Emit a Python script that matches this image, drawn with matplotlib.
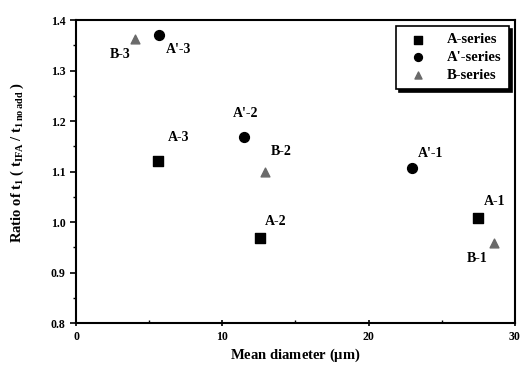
import matplotlib
matplotlib.use("Agg")
import matplotlib.pyplot as plt
from matplotlib.ticker import MultipleLocator

plt.rcParams["font.family"] = ["Liberation Serif", "DejaVu Serif"]
plt.rcParams["font.weight"] = "bold"
plt.rcParams["mathtext.fontset"] = "custom"
plt.rcParams["mathtext.rm"] = "Liberation Serif:bold"
plt.rcParams["mathtext.it"] = "Liberation Serif:bold"
plt.rcParams["mathtext.bf"] = "Liberation Serif:bold"

# data
a_x = [27.5, 12.6, 5.6]
a_y = [1.008, 0.968, 1.121]
a_lab = ["A-1", "A-2", "A-3"]

ap_x = [23.0, 11.5, 5.7]
ap_y = [1.108, 1.168, 1.370]
ap_lab = ["A'-1", "A'-2", "A'-3"]

b_x = [28.6, 12.9, 4.0]
b_y = [0.958, 1.099, 1.362]
b_lab = ["B-1", "B-2", "B-3"]

# label offsets in points (dx, dy)
a_off = [(12, 12), (11, 12), (15, 17)]
ap_off = [(13, 10), (1, 17), (14, -10)]
b_off = [(-12, -11), (12, 15), (-10, -11)]

fig = plt.figure(figsize=(5.21, 3.71), dpi=100)
ax = fig.add_axes([0.146, 0.129, 0.842, 0.817])

ax.scatter(a_x, a_y, marker="s", s=45, color="black", label="A-series", zorder=3)
ax.scatter(ap_x, ap_y, marker="o", s=50, color="black", label="A'-series", zorder=3)
ax.scatter(b_x, b_y, marker="^", s=40, color="#6a6a6a", label="B-series", zorder=3)

for xs, ys, labs, offs in [(a_x, a_y, a_lab, a_off), (ap_x, ap_y, ap_lab, ap_off),
                           (b_x, b_y, b_lab, b_off)]:
    for x, y, t, (dx, dy) in zip(xs, ys, labs, offs):
        ax.annotate(t, (x, y), xytext=(dx, dy), textcoords="offset points",
                    ha="center", va="center", fontsize=10, fontweight="bold")

ax.set_xlim(0, 30)
ax.set_ylim(0.8, 1.4)
ax.xaxis.set_major_locator(MultipleLocator(10))
ax.xaxis.set_minor_locator(MultipleLocator(5))
ax.yaxis.set_major_locator(MultipleLocator(0.1))
ax.yaxis.set_minor_locator(MultipleLocator(0.05))
ax.tick_params(axis="x", which="major", direction="inout", labelsize=8.5)
ax.tick_params(axis="x", which="minor", direction="in")
ax.tick_params(axis="y", which="both", direction="out", labelsize=8.5)
ax.tick_params(which="major", length=4, width=1.2)
ax.tick_params(which="minor", length=2.5, width=1)
for lab in ax.get_xticklabels() + ax.get_yticklabels():
    lab.set_fontweight("bold")

for s in ax.spines.values():
    s.set_linewidth(1.5)

ax.set_xlabel(r"Mean diameter ($\mu$m)", fontsize=10.5, fontweight="bold", labelpad=3)
ax.set_ylabel(r"Ratio of t$_1$ ( t$_{\mathrm{IFA}}$ / t$_{\mathrm{1\,no\,add}}$ )",
              fontsize=10.5, fontweight="bold")
ax.yaxis.set_label_coords(-0.115, 0.53)

leg = ax.legend(loc="upper right", fontsize=10.5, frameon=True, fancybox=False,
                shadow={"color": "black", "alpha": 1}, handletextpad=1.0,
                borderpad=0.5, labelspacing=0.3, markerscale=0.8,
                bbox_to_anchor=(1.0, 1.0), borderaxespad=0.4)
leg.get_frame().set_edgecolor("black")
leg.get_frame().set_linewidth(1.2)
for t in leg.get_texts():
    t.set_fontweight("bold")

fig.savefig("out.png", dpi=100)
